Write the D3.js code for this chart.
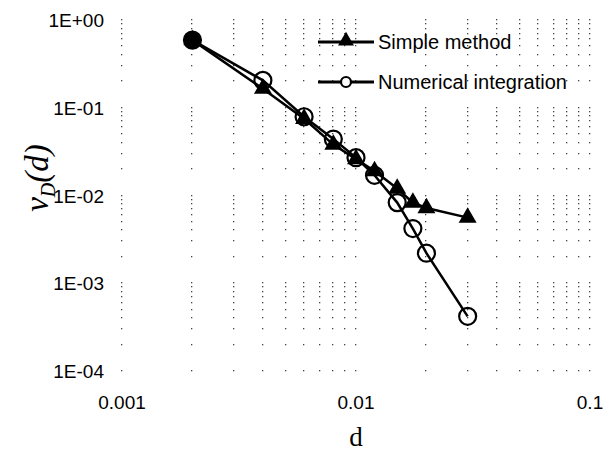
<!DOCTYPE html>
<html>
<head>
<meta charset="utf-8">
<script src="https://cdn.jsdelivr.net/npm/d3@7"></script>
<style>
  body { margin: 0; background: #fff; }
</style>
</head>
<body>
<div id="chart"></div>
<script>
// data
const dValues = [0.002, 0.004, 0.006, 0.008, 0.01, 0.012, 0.015, 0.0175, 0.02, 0.03];
const simpleMethod = [0.59, 0.165, 0.075, 0.038, 0.026, 0.019, 0.012, 0.0083, 0.0072, 0.0056];
const numericalIntegration = [0.59, 0.205, 0.079, 0.044, 0.027, 0.017, 0.0083, 0.0042, 0.0022, 0.00042];
const seriesNames = ["Simple method", "Numerical integration"];
const xTicks = [0.001, 0.01, 0.1];
const xTickLabels = ["0.001", "0.01", "0.1"];
const yTicks = [1, 0.1, 0.01, 0.001, 0.0001];
const yTickLabels = ["1E+00", "1E-01", "1E-02", "1E-03", "1E-04"];

const sans = "'Liberation Sans', Arial, sans-serif";
const serif = "'Liberation Serif', 'Times New Roman', serif";

const W = 605, H = 456;
const margin = { top: 20, left: 122 };

const svg = d3.select("#chart")
  .append("svg")
  .attr("width", W)
  .attr("height", H);

const g = svg.append("g")
  .attr("transform", `translate(${margin.left},${margin.top})`);

const x = d3.scaleLog().domain([0.001, 0.1]).range([0, 468]);
const y = d3.scaleLog().domain([0.0001, 1]).range([351, 0]);

// minor grid positions (1..9 x 10^k)
const minor = (lo, hi) => {
  const out = [];
  for (let e = Math.log10(lo); e < Math.log10(hi); e++) {
    for (let m = 1; m < 10; m++) out.push(m * Math.pow(10, e));
  }
  out.push(hi);
  return out;
};
const gx = minor(0.001, 0.1);
const gy = minor(0.0001, 1);

// dotted grid (shows up as dots at the crossings)
const dots = [];
gx.forEach(a => gy.forEach(b => dots.push([a, b])));
g.append("g")
  .selectAll("rect")
  .data(dots)
  .join("rect")
  .attr("x", d => Math.round(x(d[0])) - 1)
  .attr("y", d => Math.round(y(d[1])) - 1)
  .attr("width", 1.3)
  .attr("height", 1.3)
  .attr("fill", "#444");

// tick labels
g.selectAll(".xt")
  .data(xTicks)
  .join("text")
  .attr("x", d => x(d))
  .attr("y", 389)
  .attr("text-anchor", "middle")
  .style("font-family", sans)
  .style("font-size", "19px")
  .text((d, i) => xTickLabels[i]);

g.selectAll(".yt")
  .data(yTicks)
  .join("text")
  .attr("x", -18)
  .attr("y", d => y(d) + 7)
  .attr("text-anchor", "end")
  .style("font-family", sans)
  .style("font-size", "19px")
  .text((d, i) => yTickLabels[i]);

// axis titles
svg.append("text")
  .attr("x", margin.left + x(0.01))
  .attr("y", 446)
  .attr("text-anchor", "middle")
  .style("font-family", serif)
  .style("font-size", "27px")
  .text("d");

const yt = svg.append("text")
  .attr("transform", "translate(48,178) rotate(-90)")
  .attr("text-anchor", "middle")
  .style("font-family", serif)
  .style("font-style", "italic")
  .style("font-size", "33px");
yt.append("tspan").text("v");
yt.append("tspan").style("font-size", "20px").attr("dy", 7).text("D");
yt.append("tspan").attr("dy", -7).text("(d)");

// lines
const line = d3.line()
  .x(d => x(d[0]))
  .y(d => y(d[1]));

const simplePts = dValues.map((d, i) => [d, simpleMethod[i]]);
const numPts = dValues.map((d, i) => [d, numericalIntegration[i]]);

g.append("path")
  .attr("d", line(numPts))
  .attr("fill", "none")
  .attr("stroke", "#000")
  .attr("stroke-width", 2.5);

g.append("path")
  .attr("d", line(simplePts))
  .attr("fill", "none")
  .attr("stroke", "#000")
  .attr("stroke-width", 2.5);

const tri = d3.symbol().type(d3.symbolTriangle);

g.selectAll(".tri")
  .data(simplePts)
  .join("path")
  .attr("transform", d => `translate(${x(d[0])},${y(d[1])})`)
  .attr("d", tri.size(140))
  .attr("fill", "#000");

g.selectAll(".circ")
  .data(numPts)
  .join("circle")
  .attr("cx", d => x(d[0]))
  .attr("cy", d => y(d[1]))
  .attr("r", 8.5)
  .attr("fill", (d, i) => i === 0 ? "#000" : "none")
  .attr("stroke", "#000")
  .attr("stroke-width", 2.2);

// legend
const legend = svg.append("g").attr("transform", "translate(318,42)");
[0, 1].forEach(i => {
  const row = legend.append("g").attr("transform", `translate(0,${i * 40})`);
  row.append("line")
    .attr("x1", 0).attr("x2", 56)
    .attr("stroke", "#000").attr("stroke-width", 3);
  if (i === 0) {
    row.append("path").attr("transform", "translate(28,-1)")
      .attr("d", tri.size(110)).attr("fill", "#000");
  } else {
    row.append("circle").attr("cx", 28).attr("r", 5)
      .attr("fill", "#fff").attr("stroke", "#000").attr("stroke-width", 2.2);
  }
  row.append("text")
    .attr("x", 60).attr("y", 7)
    .style("font-family", sans)
    .style("font-size", "20px")
    .text(seriesNames[i]);
});
</script>
</body>
</html>
